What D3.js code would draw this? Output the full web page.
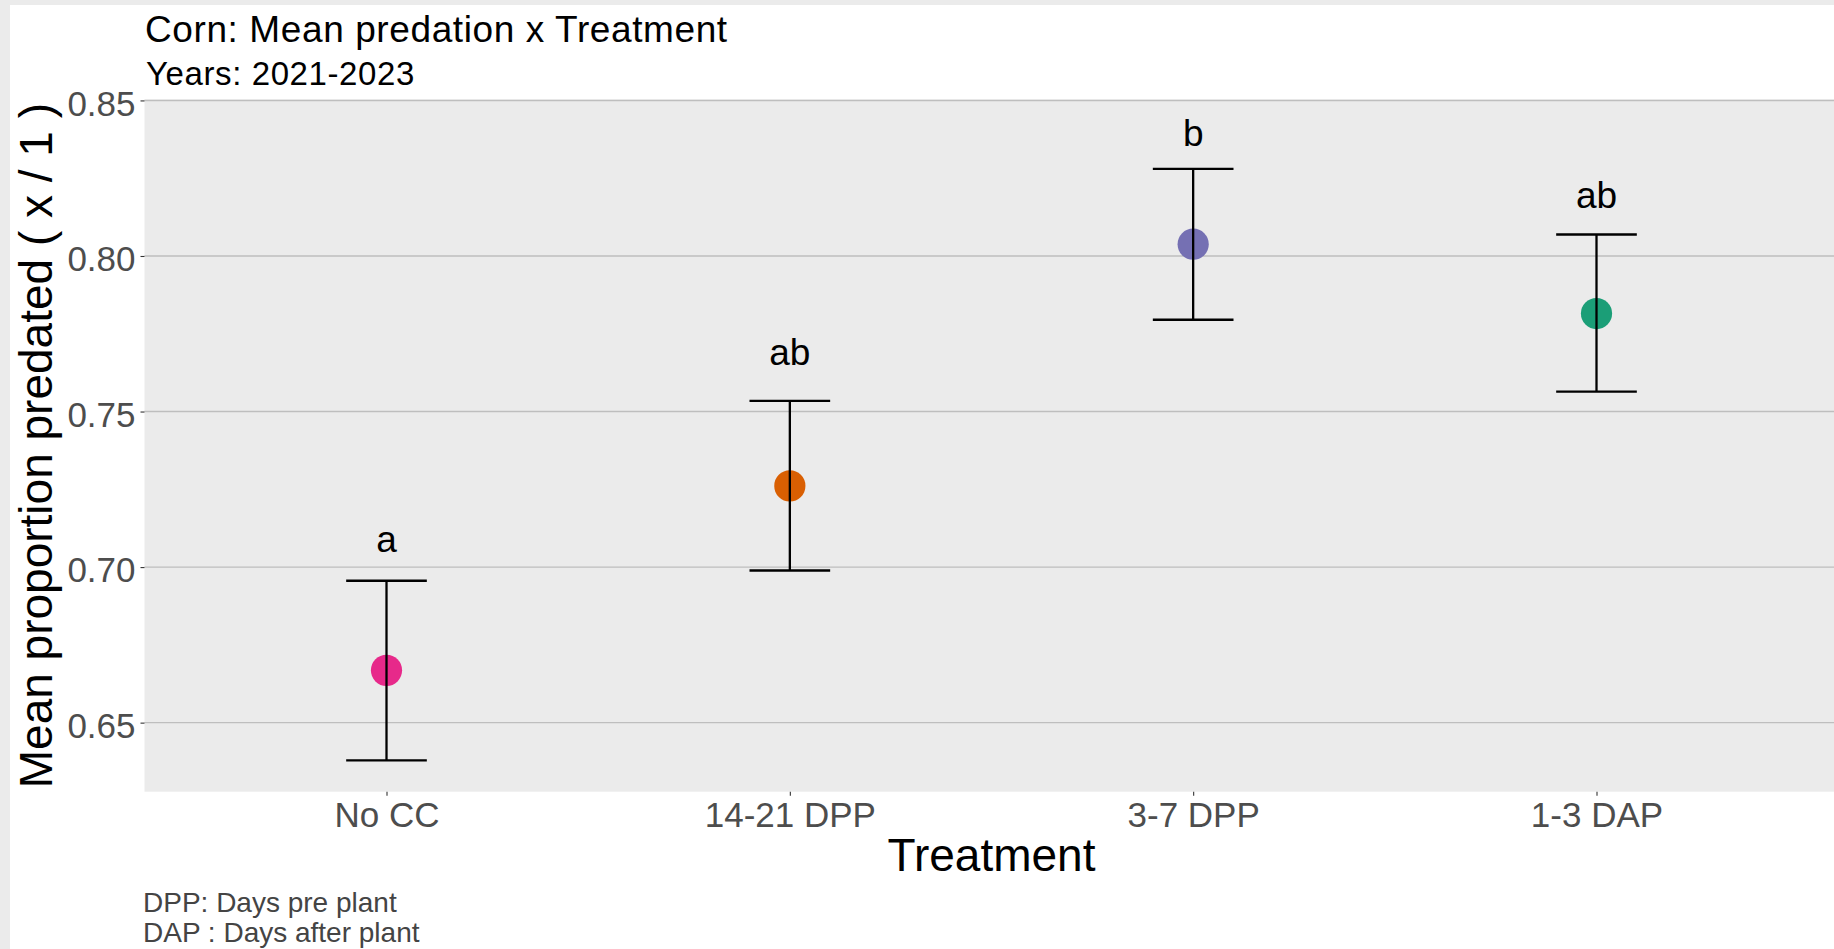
<!DOCTYPE html>
<html>
<head>
<meta charset="utf-8">
<script src="https://cdnjs.cloudflare.com/ajax/libs/d3/7.8.5/d3.min.js"></script>
<style>
	body { margin: 0; overflow: hidden; background: #ebebeb; }
	text { font-family: Arial, "Liberation Sans", sans-serif; }
</style>
</head>
<body>
<div class="main"></div>
<script>
//data
var treatments = ["No CC", "14-21 DPP", "3-7 DPP", "1-3 DAP"];
var meanPred = [0.6668, 0.7261, 0.8038, 0.7815];
var lowerBar = [0.6379, 0.6989, 0.7795, 0.7564];
var upperBar = [0.6956, 0.7534, 0.8280, 0.8069];
var groupLetters = ["a", "ab", "b", "ab"];
var letterPos = [0.7050, 0.7650, 0.8352, 0.8154];
var pointColors = ["#E7298A", "#D95F02", "#7570B3", "#1B9E77"];
var yTicks = [0.65, 0.70, 0.75, 0.80, 0.85];

//Canvas config
var W = 1834, H = 949;
var panel = {left: 144.5, right: 1838.5, top: 99.5, bottom: 791.7};

var rows = treatments.map(function(t, i) {
	return {Treatment: t, mean: meanPred[i], lower: lowerBar[i], upper: upperBar[i],
		letter: groupLetters[i], letterY: letterPos[i], colour: pointColors[i]};
});

var svg = d3.select(".main")
	.append("svg")
	.attr("width", W)
	.attr("height", H);

//white plot background inside the grey viewer frame
svg.append("rect")
	.attr("x", 10).attr("y", 5)
	.attr("width", W - 10).attr("height", H - 5)
	.style("fill", "white");

var xScale = d3.scalePoint()
	.domain(treatments)
	.range([panel.left, panel.right])
	.padding(0.6);
var yScale = d3.scaleLinear()
	.domain([0.6278, 0.8503])
	.range([panel.bottom, panel.top]);
var step = xScale.step();

//panel
svg.append("rect")
	.attr("x", panel.left)
	.attr("y", panel.top)
	.attr("width", panel.right - panel.left)
	.attr("height", panel.bottom - panel.top)
	.style("fill", "#ebebeb");

//horizontal grid lines
svg.append("g")
	.attr("class", "grid")
	.selectAll("line")
	.data(yTicks)
	.enter()
	.append("line")
	.attr("x1", panel.left)
	.attr("x2", panel.right)
	.attr("y1", function(d) { return yScale(d); })
	.attr("y2", function(d) { return yScale(d); })
	.style("stroke", "#bebebe")
	.style("stroke-width", 1.4);

//y axis
var yAxis = d3.axisLeft(yScale)
	.tickValues(yTicks)
	.tickFormat(d3.format(".2f"))
	.tickSize(4)
	.tickPadding(5);
var gy = svg.append("g")
	.attr("class", "y-axis")
	.attr("transform", "translate(" + panel.left + ",0)")
	.call(yAxis);
gy.select(".domain").remove();
gy.selectAll("line").style("stroke", "#333333").style("stroke-width", 1.1);
gy.selectAll("text")
	.attr("dy", "0.42em")
	.style("font-size", "35px")
	.style("fill", "#4d4d4d");

//x axis
var xAxis = d3.axisBottom(xScale)
	.tickSize(4)
	.tickPadding(6);
var gx = svg.append("g")
	.attr("class", "x-axis")
	.attr("transform", "translate(0," + panel.bottom + ")")
	.call(xAxis);
gx.select(".domain").remove();
gx.selectAll("line").style("stroke", "#333333").style("stroke-width", 1.1);
gx.selectAll("text")
	.attr("dy", "0.71em")
	.style("font-size", "35px")
	.style("fill", "#4d4d4d");

//points (drawn under the error bars)
var nodes = svg.append("g").attr("class", "nodes");
nodes.selectAll("circle")
	.data(rows)
	.enter()
	.append("circle")
	.attr("cx", function(d) { return xScale(d.Treatment); })
	.attr("cy", function(d) { return yScale(d.mean); })
	.attr("r", 15.6)
	.style("fill", function(d) { return d.colour; });

//error bars
var bars = svg.append("g")
	.attr("class", "bars")
	.selectAll("g")
	.data(rows)
	.enter()
	.append("g")
	.style("stroke", "black")
	.style("stroke-width", 2.3);
bars.append("line")
	.attr("x1", function(d) { return xScale(d.Treatment); })
	.attr("x2", function(d) { return xScale(d.Treatment); })
	.attr("y1", function(d) { return yScale(d.lower); })
	.attr("y2", function(d) { return yScale(d.upper); });
bars.append("line")
	.attr("x1", function(d) { return xScale(d.Treatment) - step * 0.1; })
	.attr("x2", function(d) { return xScale(d.Treatment) + step * 0.1; })
	.attr("y1", function(d) { return yScale(d.upper); })
	.attr("y2", function(d) { return yScale(d.upper); });
bars.append("line")
	.attr("x1", function(d) { return xScale(d.Treatment) - step * 0.1; })
	.attr("x2", function(d) { return xScale(d.Treatment) + step * 0.1; })
	.attr("y1", function(d) { return yScale(d.lower); })
	.attr("y2", function(d) { return yScale(d.lower); });

//significance letters
svg.append("g")
	.attr("class", "letters")
	.selectAll("text")
	.data(rows)
	.enter()
	.append("text")
	.attr("x", function(d) { return xScale(d.Treatment); })
	.attr("y", function(d) { return yScale(d.letterY); })
	.attr("text-anchor", "middle")
	.style("font-size", "37px")
	.style("fill", "black")
	.text(function(d) { return d.letter; });

//titles
svg.append("text")
	.attr("class", "title")
	.attr("x", 145).attr("y", 42)
	.style("font-size", "37px")
	.style("letter-spacing", "0.6px")
	.text("Corn: Mean predation x Treatment");
svg.append("text")
	.attr("class", "subtitle")
	.attr("x", 146).attr("y", 85)
	.style("font-size", "33px")
	.style("letter-spacing", "0.6px")
	.text("Years: 2021-2023");

//axis titles
svg.append("text")
	.attr("class", "x-axis-label")
	.attr("x", (panel.left + panel.right) / 2)
	.attr("y", 871)
	.attr("text-anchor", "middle")
	.style("font-size", "46px")
	.text("Treatment");
svg.append("text")
	.attr("class", "y-axis-label")
	.attr("transform", "translate(51.7," + (panel.top + panel.bottom) / 2 + ") rotate(-90)")
	.attr("text-anchor", "middle")
	.style("font-size", "46px")
	.text("Mean proportion predated ( x / 1 )");

//caption
var caption = svg.append("text")
	.attr("class", "caption")
	.attr("x", 143)
	.style("font-size", "28px")
	.style("fill", "#444444");
caption.append("tspan").attr("x", 143).attr("y", 911.7).text("DPP: Days pre plant");
caption.append("tspan").attr("x", 143).attr("y", 941.7).text("DAP : Days after plant");
</script>
</body>
</html>
